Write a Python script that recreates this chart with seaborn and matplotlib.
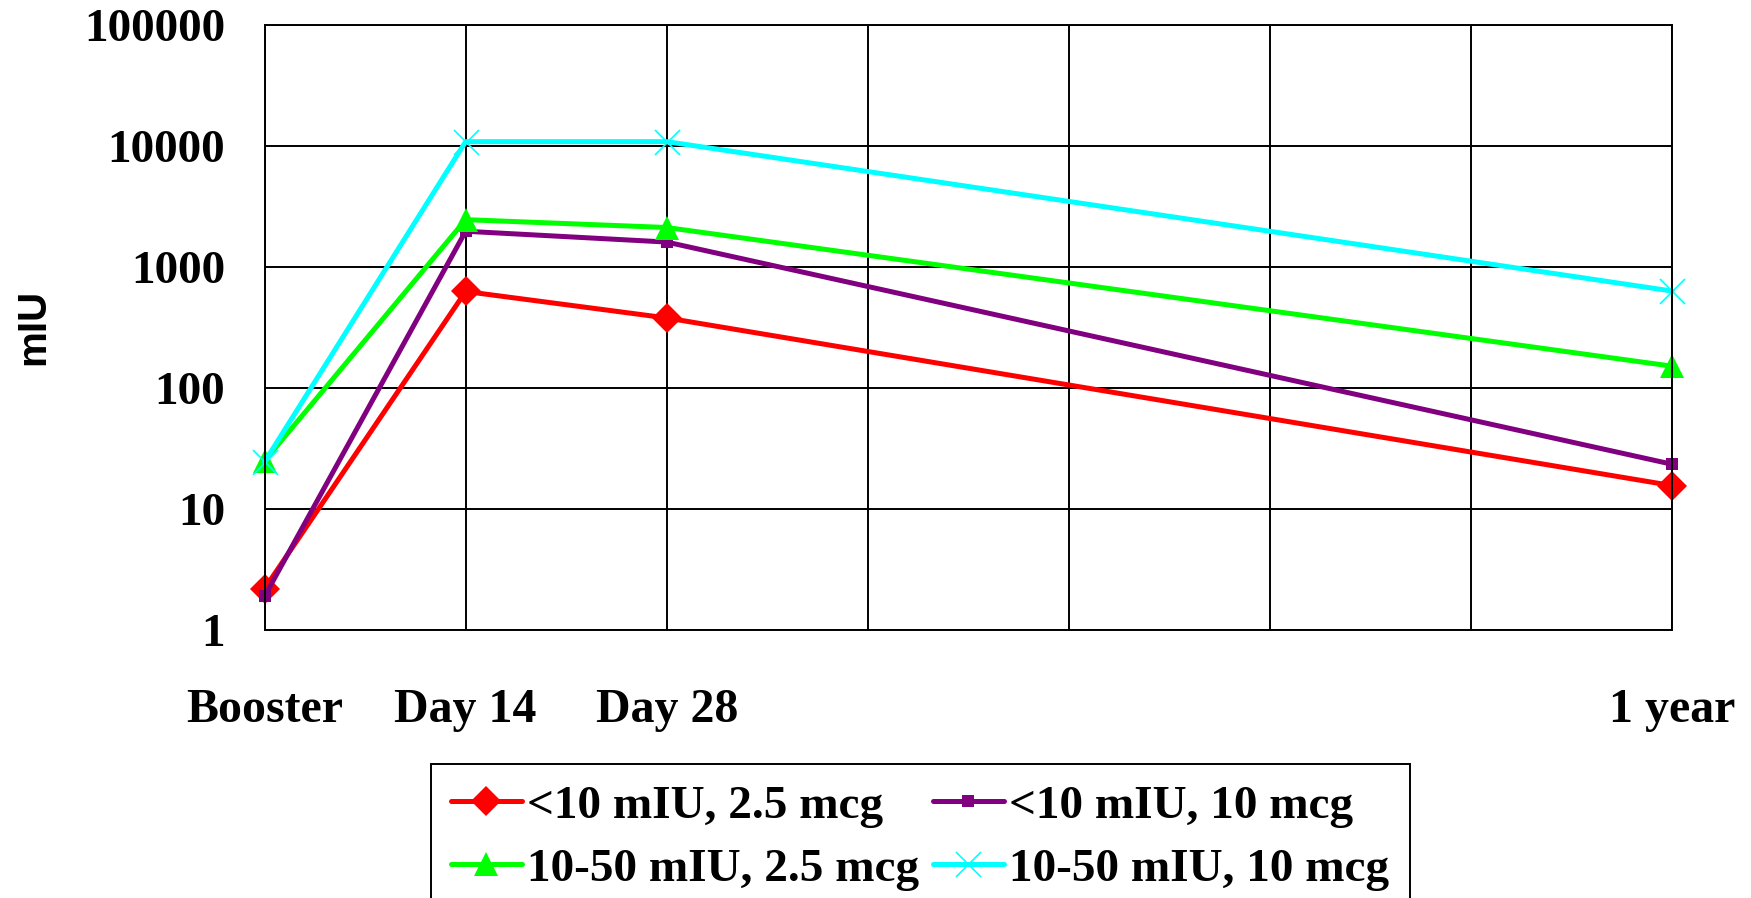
import numpy as np
import pandas as pd
import seaborn as sns
import matplotlib.pyplot as plt

# time points on the x axis (grid slot index) and their labels
slot_labels = ["Booster", "Day 14", "Day 28", "", "", "", "", "1 year"]
time_pos = [0, 1, 2, 7]

# antibody titers (mIU)
low_25 = [2.2, 625, 378, 15.6]
low_10 = [1.9, 1965, 1600, 23.4]
mid_25 = [25, 2450, 2110, 151]
mid_10 = [24.5, 10800, 10800, 630]

series = [
    ("<10 mIU, 2.5 mcg", low_25, "#FF0000", "D", 15, 0),
    ("<10 mIU, 10 mcg", low_10, "#800080", "s", 8.5, 0),
    ("10-50 mIU, 2.5 mcg", mid_25, "#00FF00", "^", 17, 0),
    ("10-50 mIU, 10 mcg", mid_10, "#00FFFF", "x", 18, 1.2),
]

sns.set_style("white")
plt.rcParams["font.family"] = ["Liberation Serif", "DejaVu Serif"]
plt.rcParams["text.color"] = "black"
plt.rcParams["xtick.color"] = "black"
plt.rcParams["ytick.color"] = "black"
plt.rcParams["axes.labelcolor"] = "black"

fig = plt.figure(figsize=(17.51, 8.98), dpi=100)
ax = fig.add_axes([0.1511, 0.2984, 0.8038, 0.6742])

for name, vals, col, mk, ms, mew in series:
    df = pd.DataFrame({"t": time_pos, "mIU": vals})
    kw = dict(markeredgewidth=mew, markeredgecolor=col) if mk == "x" else dict(markeredgewidth=0)
    sns.lineplot(data=df, x="t", y="mIU", ax=ax, color=col, lw=3.6,
                 marker=mk, markersize=ms, label=name, clip_on=False, **kw)

ax.set_yscale("log")
ax.set_ylim(1, 100000)
ax.set_xlim(0, 7)
ax.set_yticks([1, 10, 100, 1000, 10000, 100000])
ax.set_yticklabels(["1", "10", "100", "1000", "10000", "100000"])
ax.minorticks_off()
ax.set_xticks(range(len(slot_labels)))
ax.set_xticklabels(slot_labels)
ax.grid(True, color="black", lw=1.4)
ax.set_axisbelow(True)
for s in ax.spines.values():
    s.set_color("black")
    s.set_linewidth(1.4)
ax.tick_params(axis="y", direction="out", length=11.5, width=1.4, pad=17, labelsize=34)
ax.tick_params(axis="x", direction="out", length=11.5, width=1.4, pad=30.5, labelsize=34.5)
for lbl in ax.get_xticklabels() + ax.get_yticklabels():
    lbl.set_fontweight("bold")

ax.set_xlabel("")
ax.set_ylabel("mIU", fontsize=29, fontweight="bold", family="Liberation Sans", labelpad=23)

# row-wise legend order: red, purple / green, cyan
handles, labels = ax.get_legend_handles_labels()
order = [0, 2, 1, 3]
leg = ax.legend([handles[i] for i in order], [labels[i] for i in order],
                loc="upper center", bbox_to_anchor=(0.5255, 0.149), bbox_transform=fig.transFigure,
                ncol=2, frameon=True, fancybox=False, edgecolor="black", framealpha=1,
                prop={"family": "Liberation Serif", "weight": "bold", "size": 34},
                handlelength=1.5, handletextpad=0.12, columnspacing=0.28,
                labelspacing=0.43, borderpad=0.43, borderaxespad=0)
leg.get_frame().set_linewidth(1.4)

fig.savefig("out.png", dpi=100)
